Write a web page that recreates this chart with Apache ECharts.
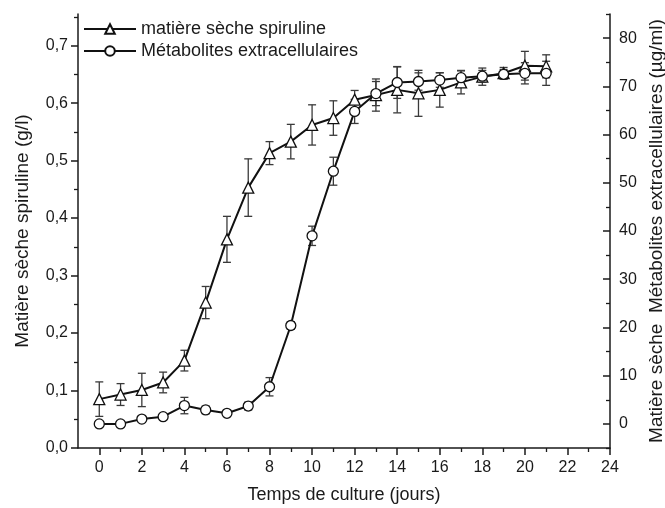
<!DOCTYPE html>
<html>
<head>
<meta charset="utf-8">
<script src="https://cdn.jsdelivr.net/npm/echarts@6/dist/echarts.min.js"></script>
<style>
  html, body { margin: 0; padding: 0; background: #fff; }
  #chart { width: 665px; height: 508px; }
</style>
</head>
<body>
<div id="chart"></div>
<script>
// culture days
var days = [0, 1, 2, 3, 4, 5, 6, 7, 8, 9, 10, 11, 12, 13, 14, 15, 16, 17, 18, 19, 20, 21];
// matière sèche spiruline (g/l) and its error
var dryMatter = [0.085, 0.093, 0.101, 0.114, 0.152, 0.253, 0.363, 0.453, 0.513, 0.533, 0.562,
  0.574, 0.606, 0.614, 0.623, 0.617, 0.623, 0.636, 0.646, 0.652, 0.665, 0.664];
var dryMatterErr = [0.03, 0.019, 0.029, 0.018, 0.018, 0.028, 0.04, 0.05, 0.02, 0.03, 0.035,
  0.03, 0.016, 0.028, 0.04, 0.04, 0.03, 0.02, 0.015, 0.01, 0.025, 0.02];
// métabolites extracellulaires (µg/ml) and its error
var metabolites = [0, 0, 1.0, 1.5, 3.8, 2.9, 2.2, 3.7, 7.7, 20.4, 39.0,
  52.4, 64.8, 68.5, 70.8, 71.0, 71.3, 71.8, 72.1, 72.5, 72.7, 72.7];
var metabolitesErr = [0.5, 0.4, 0.6, 0.6, 1.7, 0.8, 0.5, 0.8, 1.9, 0.8, 2.0,
  2.9, 2.5, 2.5, 3.3, 1.8, 1.5, 1.5, 1.2, 1.0, 2.2, 2.5];
// tick labels
var xTicks = [0, 2, 4, 6, 8, 10, 12, 14, 16, 18, 20, 22, 24];
var xMinor = [1, 3, 5, 7, 9, 11, 13, 15, 17, 19, 21, 23];
var leftTicks = [0, 0.1, 0.2, 0.3, 0.4, 0.5, 0.6, 0.7];
var leftMinor = [0.05, 0.15, 0.25, 0.35, 0.45, 0.55, 0.65, 0.75];
var rightTicks = [0, 10, 20, 30, 40, 50, 60, 70, 80];
var rightMinor = [-5, 5, 15, 25, 35, 45, 55, 65, 75, 85];

var FONT = 'Liberation Sans';
var INK = '#1a1a1a';

function pairs(xs, ys) {
  return xs.map(function (x, i) { return [x, ys[i]]; });
}

function errRows(xs, ys, es) {
  return xs.map(function (x, i) { return [x, ys[i] - es[i], ys[i] + es[i]]; });
}

function renderErr(params, api) {
  var x = api.value(0),
    top = api.coord([x, api.value(2)]),
    bot = api.coord([x, api.value(1)]),
    w = 4,
    st = { stroke: '#3a3a3a', lineWidth: 1.3 };
  return {
    type: 'group',
    children: [
      { type: 'line', shape: { x1: top[0], y1: top[1], x2: bot[0], y2: bot[1] }, style: st },
      { type: 'line', shape: { x1: top[0] - w, y1: top[1], x2: top[0] + w, y2: top[1] }, style: st },
      { type: 'line', shape: { x1: bot[0] - w, y1: bot[1], x2: bot[0] + w, y2: bot[1] }, style: st }
    ]
  };
}

var chart = echarts.init(document.getElementById('chart'));

var axisText = { color: INK, fontFamily: FONT, fontSize: 16 };
var nameText = { color: INK, fontFamily: FONT, fontSize: 19 };

var option = {
  animation: false,
  grid: { left: 78, right: 55, top: 14, bottom: 60, outerBoundsMode: 'none', containLabel: false },
  legend: {
    orient: 'vertical',
    left: 78,
    top: 15,
    itemWidth: 52,
    itemHeight: 12,
    itemGap: 4,
    textStyle: { color: INK, fontFamily: FONT, fontSize: 18 },
    data: ['matière sèche spiruline', 'Métabolites extracellulaires']
  },
  xAxis: [
    {
      type: 'value', min: -1, max: 24,
      name: 'Temps de culture (jours)', nameLocation: 'middle', nameGap: 38,
      nameTextStyle: Object.assign({}, nameText, { fontSize: 18 }),
      axisLine: { show: true, onZero: false, lineStyle: { color: INK, width: 1.5 } },
      axisTick: { show: true, length: 7, customValues: xTicks, lineStyle: { color: INK, width: 1.5 } },
      axisLabel: Object.assign({ margin: 12, customValues: xTicks }, axisText),
      splitLine: { show: false }
    },
    {
      type: 'value', min: -1, max: 24, position: 'bottom', offset: 0,
      axisLine: { show: false, onZero: false },
      axisTick: { show: true, length: 4, customValues: xMinor, lineStyle: { color: INK, width: 1.3 } },
      axisLabel: { show: false },
      splitLine: { show: false }
    }
  ],
  yAxis: [
    {
      type: 'value', min: 0, max: 0.755, position: 'left',
      name: 'Matière sèche spiruline (g/l)', nameLocation: 'middle', nameGap: 46, nameRotate: 90,
      nameTextStyle: nameText,
      axisLine: { show: true, onZero: false, lineStyle: { color: INK, width: 1.5 } },
      axisTick: { show: true, length: 7, customValues: leftTicks, lineStyle: { color: INK, width: 1.5 } },
      axisLabel: Object.assign({
        margin: 10, customValues: leftTicks,
        formatter: function (v) { return v.toFixed(1).replace('.', ','); }
      }, axisText),
      splitLine: { show: false }
    },
    {
      type: 'value', min: -5, max: 85, position: 'right',
      name: 'Matière sèche  Métabolites extracellulaires (µg/ml)', nameLocation: 'middle', nameGap: 34, nameRotate: 90,
      nameTextStyle: nameText,
      axisLine: { show: true, onZero: false, lineStyle: { color: INK, width: 1.5 } },
      axisTick: { show: true, inside: true, length: 7, customValues: rightTicks, lineStyle: { color: INK, width: 1.5 } },
      axisLabel: Object.assign({ margin: 9, customValues: rightTicks }, axisText),
      splitLine: { show: false }
    },
    {
      type: 'value', min: 0, max: 0.755, position: 'left', offset: 0,
      axisLine: { show: false, onZero: false },
      axisTick: { show: true, length: 4, customValues: leftMinor, lineStyle: { color: INK, width: 1.3 } },
      axisLabel: { show: false },
      splitLine: { show: false }
    },
    {
      type: 'value', min: -5, max: 85, position: 'right', offset: 0,
      axisLine: { show: false, onZero: false },
      axisTick: { show: true, inside: true, length: 4, customValues: rightMinor, lineStyle: { color: INK, width: 1.3 } },
      axisLabel: { show: false },
      splitLine: { show: false }
    }
  ],
  series: [
    {
      type: 'custom', name: 'errDry', yAxisIndex: 0, z: 1,
      renderItem: renderErr,
      encode: { x: 0, y: [1, 2] },
      data: errRows(days, dryMatter, dryMatterErr)
    },
    {
      type: 'custom', name: 'errMet', yAxisIndex: 1, z: 1,
      renderItem: renderErr,
      encode: { x: 0, y: [1, 2] },
      data: errRows(days, metabolites, metabolitesErr)
    },
    {
      name: 'matière sèche spiruline',
      type: 'line', yAxisIndex: 0, z: 3,
      symbol: 'triangle', symbolSize: 11,
      lineStyle: { color: '#111', width: 2 },
      itemStyle: { color: '#fff', borderColor: '#111', borderWidth: 1.3 },
      data: pairs(days, dryMatter)
    },
    {
      name: 'Métabolites extracellulaires',
      type: 'line', yAxisIndex: 1, z: 3,
      symbol: 'circle', symbolSize: 10,
      lineStyle: { color: '#111', width: 2 },
      itemStyle: { color: '#fff', borderColor: '#111', borderWidth: 1.3 },
      data: pairs(days, metabolites)
    }
  ]
};

chart.setOption(option);
</script>
</body>
</html>
